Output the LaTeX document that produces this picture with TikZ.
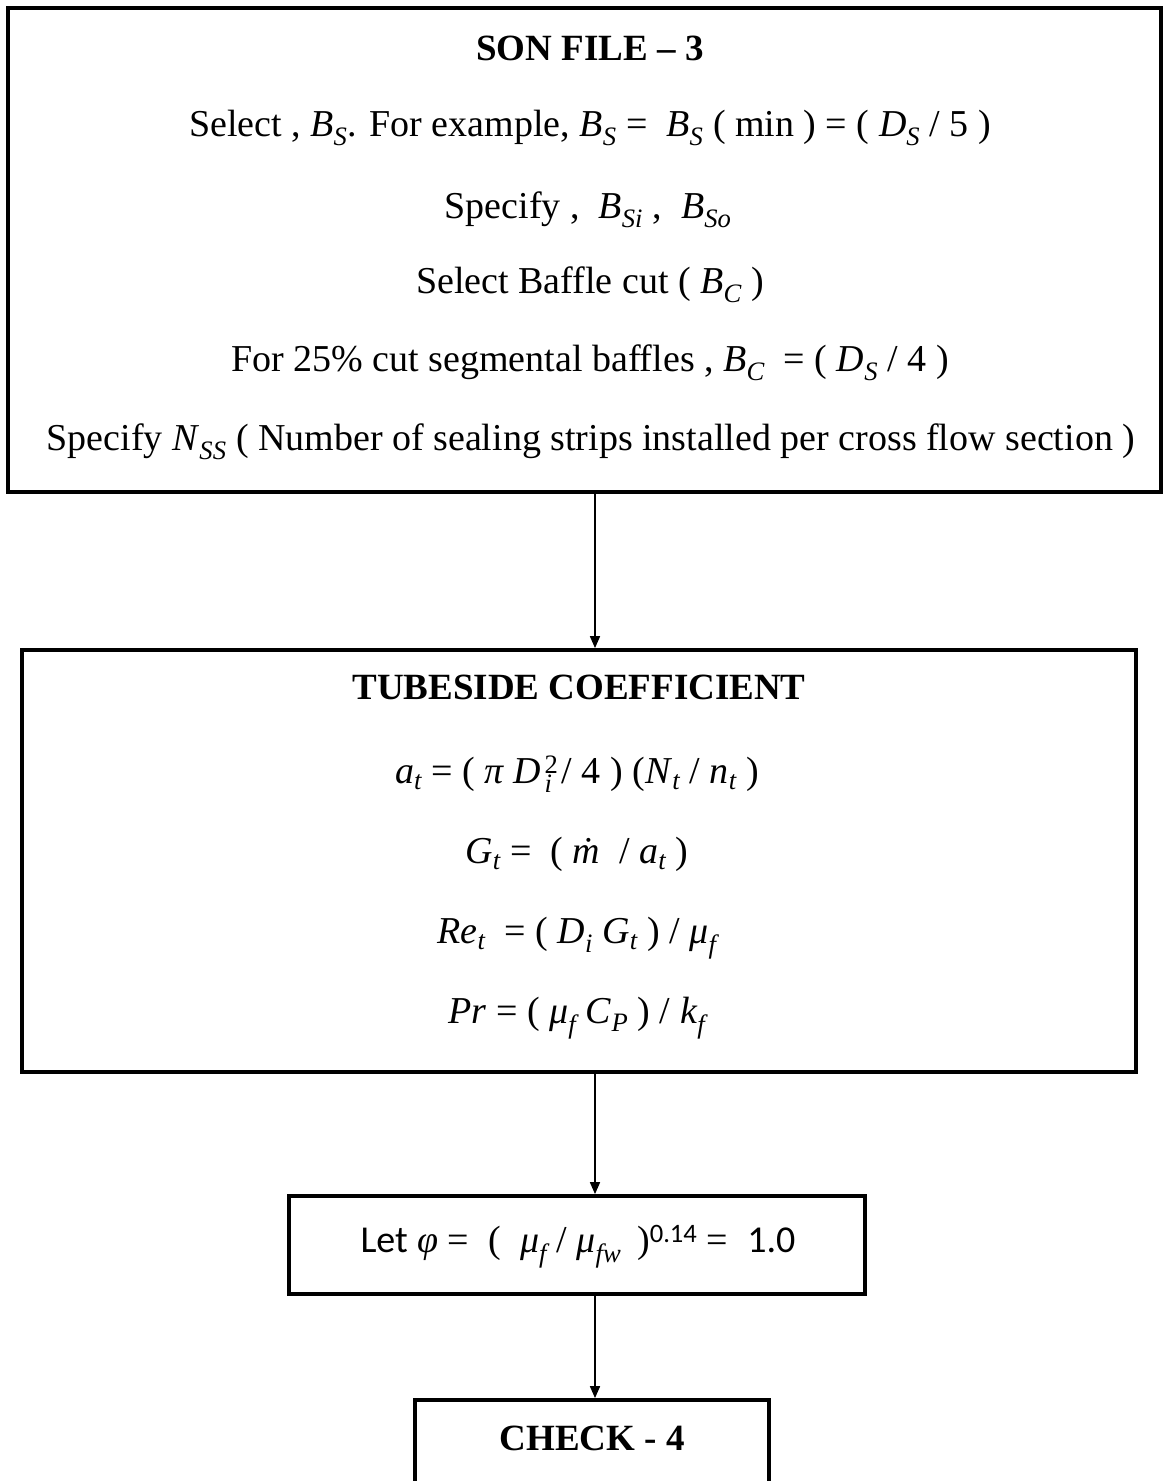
\documentclass[tikz,border=0pt]{standalone}
\usepackage{fontspec}
\setmainfont{Liberation Serif}
\newfontfamily\calib{Carlito}
\usetikzlibrary{arrows.meta}
% italic symbol with an italic subscript
\newcommand{\vr}[1]{\textit{#1}}
\newcommand{\sbs}[1]{\textsubscript{\itshape #1}}
% equals sign with roomy spacing, as in the formulas
\newcommand{\eqs}{\hspace{0.25em}=\hspace{0.25em}}
\begin{document}
\begin{tikzpicture}[x=1pt,y=-1pt,
  frame/.style={draw, line width=3.8pt, inner sep=0pt},
  flow/.style={line width=1.7pt, -{Triangle[length=12pt,width=10pt]}},
  txt/.style={anchor=base, inner sep=0pt, font=\fontsize{38}{44}\selectfont},
  head/.style={txt, font=\fontsize{37}{44}\selectfont\bfseries}]
\useasboundingbox (0,0) rectangle (1163,1481);

% boxes
\node[frame, minimum width=1153pt, minimum height=484pt] (son) at (584.5,250) {};
\node[frame, minimum width=1114pt, minimum height=422pt] (tube) at (579,861) {};
\node[frame, minimum width=576pt, minimum height=98pt] (let) at (577,1245) {};
\node[frame, minimum width=354pt, minimum height=140pt] (check) at (592,1470) {};

% SON FILE - 3
\node[head] (t1) at (590,60) {SON FILE – 3};
\node[txt] (s1) at (590,136) {Select , \vr{B}\sbs{S}. For example, \vr{B}\sbs{S}\eqs\ \vr{B}\sbs{S} ( min )\eqs( \vr{D}\sbs{S} / 5 )};
\node[txt] (s2) at (588,218) {Specify , \ \vr{B}\sbs{Si} , \ \vr{B}\sbs{So}};
\node[txt] (s3) at (590,293) {Select Baffle cut ( \vr{B}\sbs{C} )};
\node[txt] (s4) at (590,371) {For 25\% cut segmental baffles , \vr{B}\sbs{C} \eqs( \vr{D}\sbs{S} / 4 )};
\node[txt] (s5) at (591,450) {Specify \vr{N}\sbs{SS} ( Number of sealing strips installed per cross flow section )};

% TUBESIDE COEFFICIENT
\node[head] (t2) at (579,699) {TUBESIDE COEFFICIENT};
\node[txt] (e1) at (577,783) {\vr{a}\sbs{t}\eqs( \vr{π} \vr{D}\kern0.08em\makebox[0pt][l]{\textsuperscript{2}}\sbs{i} / 4 ) (\vr{N}\sbs{t} / \vr{n}\sbs{t} )};
\node[txt] (e2) at (577,863) {\vr{G}\sbs{t}\eqs\ ( \vr{\.{m}} \ / \vr{a}\sbs{t} )};
\node[txt] (e3) at (577,943) {\vr{Re}\sbs{t} \eqs( \vr{D}\sbs{i} \vr{G}\sbs{t} ) / \vr{μ}\sbs{f}};
\node[txt] (e4) at (577,1023) {\vr{Pr}\eqs( \vr{μ}\sbs{f} \vr{C}\sbs{P} ) / \vr{k}\sbs{f}};

% phi assumption and check
\node[txt] (p1) at (578,1252) {{\calib Let} \vr{φ}\eqs\ ( \ \vr{μ}\sbs{f} / \vr{μ}\sbs{fw} \,)\textsuperscript{\calib 0.14}\eqs\ {\calib 1.0}};
\node[head] (c1) at (592,1450) {CHECK - 4};

% connectors
\coordinate (ax) at (595,0);
\draw[flow] (son.south -| ax) -- (tube.north -| ax);
\draw[flow] (tube.south -| ax) -- (let.north -| ax);
\draw[flow] (let.south -| ax) -- (check.north -| ax);
\end{tikzpicture}
\end{document}
